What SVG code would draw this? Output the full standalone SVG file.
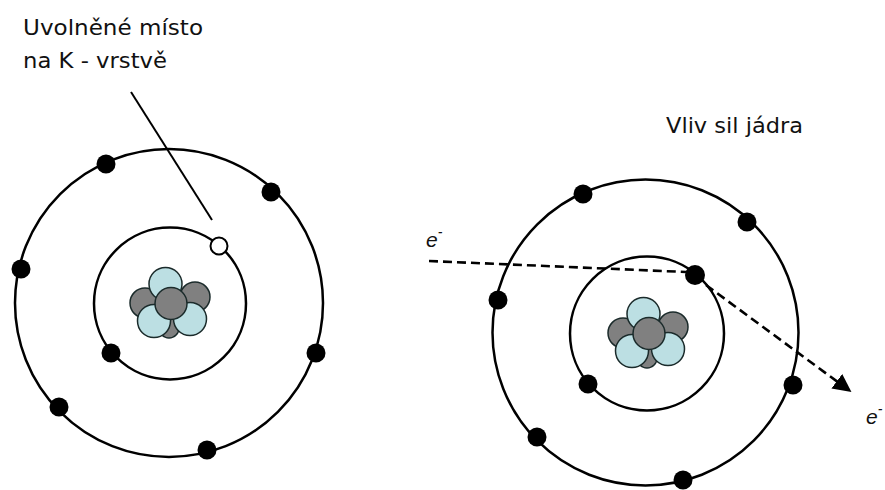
<svg xmlns="http://www.w3.org/2000/svg" width="885" height="490" viewBox="0 0 885 490">
  <style>
    .orbit { fill: none; stroke: #000; stroke-width: 2.5; }
    .electron { fill: #000; }
    .hole { fill: #fff; stroke: #000; stroke-width: 2; }
    .label { font-family: "DejaVu Sans", "Liberation Sans", sans-serif; font-size: 21.5px; fill: #111; }
    .charge { font-family: "Liberation Sans", Arial, sans-serif; font-size: 21px; font-style: italic; fill: #111; }
    .p { fill: #bcdfe3; stroke: #1b2b2b; stroke-width: 1.5; }
    .n { fill: #808080; stroke: #1b2b2b; stroke-width: 1.5; }
    .path { fill: none; stroke: #000; stroke-width: 2.6; stroke-dasharray: 9 5; }
  </style>
  <defs>
    <!-- nucleus: protons (light) and neutrons (grey), centred on 0,0 -->
    <g id="nucleus">
      <circle class="n" cx="-3" cy="25" r="10"/>
      <circle class="n" cx="-27" cy="0" r="15"/>
      <circle class="n" cx="23" cy="-6" r="15"/>
      <circle class="p" cx="-6.5" cy="-19" r="16.5"/>
      <circle class="p" cx="-18" cy="18" r="16.5"/>
      <circle class="p" cx="18" cy="16" r="16.5"/>
      <circle class="n" cx="-1" cy="0.5" r="16"/>
    </g>
    <marker id="arrow" viewBox="0 0 10 10" refX="9" refY="5" markerWidth="7" markerHeight="7" markerUnits="strokeWidth" orient="auto">
      <path d="M0,0 L10,5 L0,10 z" fill="#000"/>
    </marker>
  </defs>

  <!-- left atom: vacancy in the K shell -->
  <g id="atom-left">
    <circle class="orbit" cx="169" cy="303" r="154"/>
    <circle class="orbit" cx="170" cy="303.5" r="76"/>
    <use href="#nucleus" x="172" y="303"/>
    <circle class="electron" cx="106" cy="164" r="9.5"/>
    <circle class="electron" cx="271" cy="192" r="9.5"/>
    <circle class="electron" cx="21" cy="269" r="9.5"/>
    <circle class="electron" cx="316" cy="353" r="9.5"/>
    <circle class="electron" cx="111" cy="353" r="9.5"/>
    <circle class="electron" cx="59" cy="407" r="9.5"/>
    <circle class="electron" cx="207" cy="450" r="9.5"/>
    <circle class="hole" cx="219" cy="246" r="8.5"/>
  </g>

  <!-- right atom: incoming electron deflected by the nucleus -->
  <g id="atom-right">
    <circle class="orbit" cx="645.5" cy="332.5" r="153"/>
    <circle class="orbit" cx="647" cy="333.5" r="77"/>
    <use href="#nucleus" x="650" y="333"/>
    <circle class="electron" cx="583" cy="194" r="9.5"/>
    <circle class="electron" cx="747" cy="222" r="9.5"/>
    <circle class="electron" cx="498" cy="300" r="9.5"/>
    <circle class="electron" cx="695" cy="275" r="10"/>
    <circle class="electron" cx="793" cy="385" r="9.5"/>
    <circle class="electron" cx="588" cy="384" r="9.5"/>
    <circle class="electron" cx="537" cy="437" r="9.5"/>
    <circle class="electron" cx="683" cy="480" r="9.5"/>
  </g>

  <g id="connectors">
    <line x1="131" y1="92" x2="212" y2="220" stroke="#000" stroke-width="2"/>
    <path class="path" d="M429,261 L686,272"/>
    <path class="path" d="M706,285 L850,391" marker-end="url(#arrow)"/>
  </g>

  <g id="labels">
    <text class="label" x="23" y="35" textLength="180" lengthAdjust="spacingAndGlyphs">Uvolněné místo</text>
    <text class="label" x="23" y="68" textLength="144" lengthAdjust="spacingAndGlyphs">na K - vrstvě</text>
    <text class="label" x="666" y="133" textLength="137" lengthAdjust="spacingAndGlyphs">Vliv sil jádra</text>
    <text class="charge" x="426" y="247">e<tspan dy="-10" font-size="14">-</tspan></text>
    <text class="charge" x="866" y="424">e<tspan dy="-10" font-size="14">-</tspan></text>
  </g>
</svg>
